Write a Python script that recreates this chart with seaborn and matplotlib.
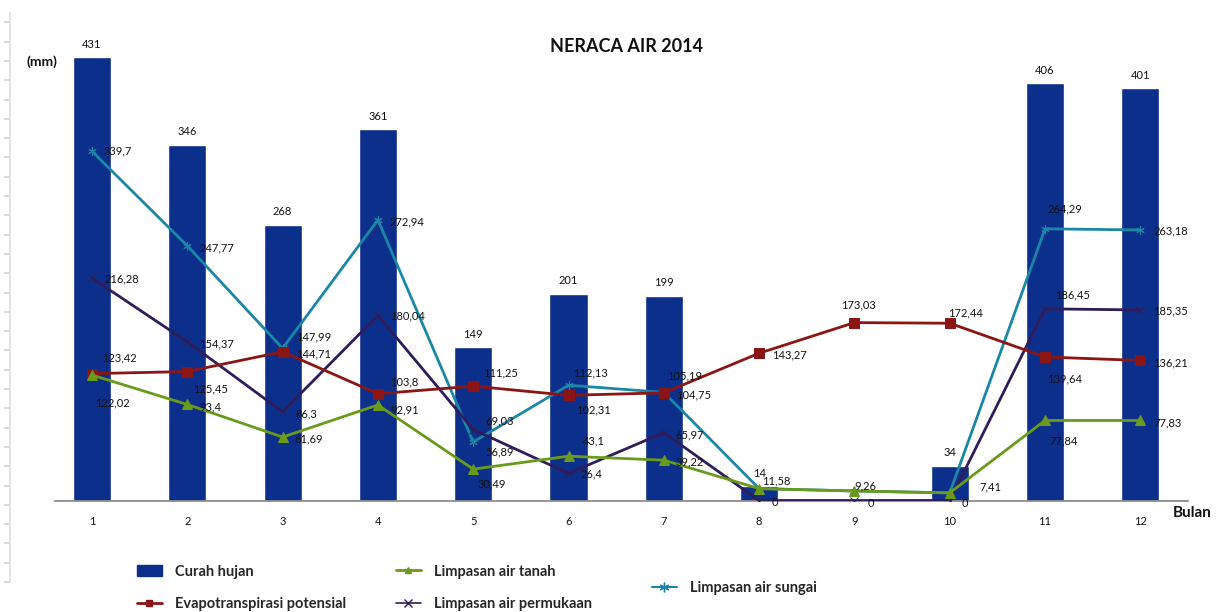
import matplotlib
matplotlib.use("Agg")
import matplotlib.pyplot as plt
import seaborn as sns
import pandas as pd
import numpy as np
from matplotlib.lines import Line2D
from matplotlib.patches import Patch
from matplotlib.ticker import MultipleLocator

# ---------------- data ----------------
bulan = [1, 2, 3, 4, 5, 6, 7, 8, 9, 10, 11, 12]
curah_hujan = [431, 346, 268, 361, 149, 201, 199, 14, 0, 34, 406, 401]
evapotranspirasi = [123.42, 125.45, 144.71, 103.8, 111.25, 102.31, 104.75, 143.27, 173.03, 172.44, 139.64, 136.21]
limpasan_tanah = [122.02, 93.4, 61.69, 92.91, 30.49, 43.1, 39.22, 11.58, 9.26, 7.41, 77.84, 77.83]
limpasan_permukaan = [216.28, 154.37, 86.3, 180.04, 69.03, 26.4, 65.97, 0, 0, 0, 186.45, 185.35]
limpasan_sungai = [339.7, 247.77, 147.99, 272.94, 56.89, 112.13, 105.19, 11.58, 9.26, 7.41, 264.29, 263.18]

title = "NERACA AIR 2014"
names = ["Curah hujan", "Evapotranspirasi potensial", "Limpasan air tanah",
         "Limpasan air permukaan", "Limpasan air sungai"]

# ---------------- style ----------------
sns.set_theme(style="white")
plt.rcParams["font.family"] = ["Lato", "DejaVu Sans"]

C_BAR = "#0d2f8c"
C_EVAP = "#8b1414"
C_TANAH = "#6a9a1c"
C_PERM = "#2e1d5a"
C_SUNGAI = "#1b87a6"

fig = plt.figure(figsize=(12.18, 6.12), dpi=100)
ax = fig.add_axes([55 / 1218, (612 - 500.5) / 612, (1188 - 55) / 1218, (500.5 - 20) / 612])

df = pd.DataFrame({"Bulan": bulan, "Curah": curah_hujan})
sns.barplot(data=df, x="Bulan", y="Curah", native_scale=True, width=0.4,
            color=C_BAR, saturation=1, ax=ax, zorder=1)

series = [
    (limpasan_sungai, C_SUNGAI, (6, 2, 0), 6),
    (limpasan_permukaan, C_PERM, "x", 6),
    (evapotranspirasi, C_EVAP, "s", 7),
    (limpasan_tanah, C_TANAH, "^", 7),
]
for vals, col, mk, ms in series:
    sns.lineplot(x=bulan, y=vals, color=col, marker=mk, markersize=ms,
                 markeredgecolor=col, markerfacecolor=col, linewidth=2.0,
                 ax=ax, zorder=3)

ax.set_xlim(0.612, 12.5)
ax.set_ylim(0, 467.4)
ax.set_xticks(bulan)
ax.set_xticklabels([str(b) for b in bulan])
ax.set_yticks([])
ax.set_xlabel("")
ax.set_ylabel("")
ax.tick_params(axis="x", length=0, pad=11, labelsize=8, colors="#111111")
for s in ["top", "right", "left"]:
    ax.spines[s].set_visible(False)
ax.spines["bottom"].set_color("#8c8c8c")
ax.spines["bottom"].set_linewidth(1.3)
ax.spines["bottom"].set_zorder(2)


def fmt(v):
    return f"{v:g}".replace(".", ",")


# bar labels
for x, v in zip(bulan, curah_hujan):
    if v > 0:
        ax.annotate(fmt(v), (x, v), xytext=(0, 13), textcoords="offset pixels",
                    ha="center", va="center", fontsize=8, color="#111111")

# line labels: (dx, dy) pixel offsets of the left edge of the label
off_sungai = [(12, 0), (12, -2), (13, 11), (12, -2), (12, -10), (5, 12), (3, 16),
              (3, 8), (0, 5), (30, 6), (2, 20), (13, -1)]
off_perm = [(13, -1), (12, -2), (13, -2), (12, -1), (12, 9), (12, -1), (12, -2),
            (13, -2), (13, -3), (12, -3), (10, 14), (13, -1)]
off_tanah = [(3, -28), (12, -2), (12, -2), (12, -5), (4, -15), (14, 15), (12, -2),
             None, None, None, (4, -20), (13, -2)]
off_evap = [(10, 16), (6, -17), (13, -2), (12, 12), (10, 13), (8, -15), (12, -2),
            (13, -2), (-13, 18), (-2, 10), (2, -22), (13, -2)]

for vals, offs in [(limpasan_sungai, off_sungai), (limpasan_permukaan, off_perm),
                   (limpasan_tanah, off_tanah), (evapotranspirasi, off_evap)]:
    for x, v, o in zip(bulan, vals, offs):
        if o is None:
            continue
        ax.annotate(fmt(v), (x, v), xytext=o, textcoords="offset pixels",
                    ha="left", va="center", fontsize=8, color="#111111", zorder=5)

# titles / axis captions
fig.text(627 / 1218, 1 - 47 / 612, title, ha="center", va="center",
         fontsize=13, fontweight="bold", color="#111111")
fig.text(42 / 1218, 1 - 62 / 612, "(mm)", ha="center", va="center",
         fontsize=10, fontweight="bold", color="#111111")
fig.text(1192 / 1218, 1 - 513 / 612, "Bulan", ha="center", va="center",
         fontsize=11, fontweight="bold", color="#111111")

# faint left scale
axl = fig.add_axes([10 / 1218, (612 - 582) / 612, 0.0005, (582 - 13) / 612])
axl.set_facecolor("none")
axl.set_xticks([])
axl.set_ylim(0, 569)
axl.yaxis.set_major_locator(MultipleLocator(19.3))
axl.set_yticklabels([])
axl.tick_params(axis="y", direction="out", length=4, color="#d5d5d5", left=True)
for s in ["top", "right", "bottom"]:
    axl.spines[s].set_visible(False)
axl.spines["left"].set_color("#e0e0e0")

# legends
lkw = dict(frameon=False, prop={"family": "Lato", "weight": "bold", "size": 10.5},
           handlelength=1.7, handletextpad=0.9, labelspacing=1.3, borderaxespad=0,
           borderpad=0)
h_bar = Patch(facecolor=C_BAR, edgecolor=C_BAR)
h_evap = Line2D([], [], color=C_EVAP, marker="s", markersize=5, linewidth=2)
h_tanah = Line2D([], [], color=C_TANAH, marker="^", markersize=5, linewidth=2)
h_perm = Line2D([], [], color=C_PERM, marker="x", markersize=6, linewidth=1.2)
h_sungai = Line2D([], [], color=C_SUNGAI, marker=(6, 2, 0), markersize=7, linewidth=1.5)

leg1 = fig.legend([h_bar, h_evap], [names[0], names[1]], loc="center left",
                  bbox_to_anchor=(137 / 1218, 1 - 588 / 612), **lkw)
leg2 = fig.legend([h_tanah, h_perm], [names[2], names[3]], loc="center left",
                  bbox_to_anchor=(396 / 1218, 1 - 588 / 612), **lkw)
leg3 = fig.legend([h_sungai], [names[4]], loc="center left",
                  bbox_to_anchor=(652 / 1218, 1 - 588 / 612), **lkw)

fig.savefig("out.png", dpi=100, facecolor="white")
